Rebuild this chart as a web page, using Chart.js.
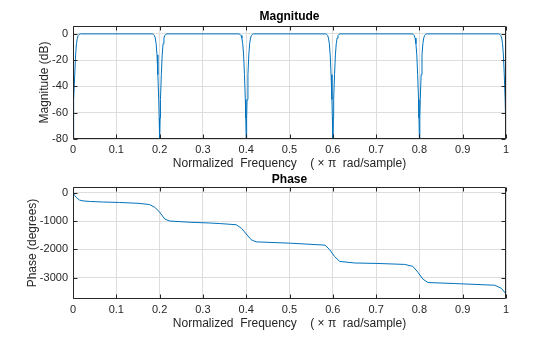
<!DOCTYPE html>
<html>
<head>
<meta charset="utf-8">
<script src="https://cdn.jsdelivr.net/npm/chart.js@4"></script>
<style>
  html, body { margin: 0; padding: 0; background: #ffffff; }
  #wrap { position: relative; width: 560px; height: 337px; overflow: hidden; background: #ffffff; }
  canvas { position: absolute; left: 0; }
  #c1 { top: 0; }
  #c2 { top: 172px; }
</style>
</head>
<body>
<div id="wrap">
  <canvas id="c1" width="560" height="172"></canvas>
  <canvas id="c2" width="560" height="165"></canvas>
</div>
<script>
// ---- data ----
const magFreq = [
  0, 0.001, 0.002, 0.004, 0.006, 0.008, 0.010, 0.012, 0.014, 0.017,
  0.183, 0.186, 0.188, 0.190, 0.192, 0.194, 0.196, 0.198, 0.199, 0.2, 0.201, 0.202, 0.204, 0.206, 0.208, 0.210, 0.212, 0.214, 0.217,
  0.383, 0.386, 0.388, 0.390, 0.392, 0.394, 0.396, 0.398, 0.399, 0.4, 0.401, 0.402, 0.404, 0.406, 0.408, 0.410, 0.412, 0.414, 0.417,
  0.583, 0.586, 0.588, 0.590, 0.592, 0.594, 0.596, 0.598, 0.599, 0.6, 0.601, 0.602, 0.604, 0.606, 0.608, 0.610, 0.612, 0.614, 0.617,
  0.783, 0.786, 0.788, 0.790, 0.792, 0.794, 0.796, 0.798, 0.799, 0.8, 0.801, 0.802, 0.804, 0.806, 0.808, 0.810, 0.812, 0.814, 0.817,
  0.983, 0.986, 0.988, 0.990, 0.992, 0.994, 0.996, 0.998, 0.999, 1
];
const magDb = [
  -80, -64, -50, -31, -16, -7.5, -3.2, -1.2, -0.4, 0,
  0, -0.4, -1.2, -3.2, -7.5, -16, -31, -50, -64, -80, -64, -50, -31, -16, -7.5, -3.2, -1.2, -0.4, 0,
  0, -0.4, -1.2, -3.2, -7.5, -16, -31, -50, -64, -80, -64, -50, -31, -16, -7.5, -3.2, -1.2, -0.4, 0,
  0, -0.4, -1.2, -3.2, -7.5, -16, -31, -50, -64, -80, -64, -50, -31, -16, -7.5, -3.2, -1.2, -0.4, 0,
  0, -0.4, -1.2, -3.2, -7.5, -16, -31, -50, -64, -80, -64, -50, -31, -16, -7.5, -3.2, -1.2, -0.4, 0,
  0, -0.4, -1.2, -3.2, -7.5, -16, -31, -50, -64, -80
];
const phaseFreq = [
  0, 0.004, 0.008, 0.015, 0.023, 0.04, 0.07, 0.108, 0.15, 0.177, 0.189, 0.2, 0.212, 0.223, 0.27,
  0.316, 0.339, 0.377, 0.389, 0.4, 0.412, 0.423, 0.5, 0.582, 0.593, 0.604, 0.616, 0.651, 0.70,
  0.766, 0.785, 0.797, 0.808, 0.82, 0.881, 0.974, 0.989, 1
];
const phaseDeg = [
  0, -100, -175, -260, -290, -310, -330, -346, -375, -418, -518, -686, -930, -1000, -1043,
  -1070, -1090, -1130, -1255, -1455, -1665, -1735, -1780, -1850, -2015, -2250, -2425, -2480, -2495,
  -2530, -2600, -2815, -3050, -3170, -3205, -3265, -3370, -3570
];
const freqTicks = [0, 0.1, 0.2, 0.3, 0.4, 0.5, 0.6, 0.7, 0.8, 0.9, 1];
const magTicks = [-80, -60, -40, -20, 0];
const phaseTicks = [-3000, -2000, -1000, 0];

// ---- styling ----
const LINE = '#0072BD';
const AX = '#262626';
const GRID = '#dedede';
const FONT = "'Liberation Sans', Arial, Helvetica, sans-serif";

const boxPlugin = {
  id: 'box',
  afterDraw(chart, args, opts) {
    const ctx = chart.ctx;
    const a = chart.chartArea;
    const L = Math.round(a.left) + 0.5, R = Math.round(a.right) - 0.5;
    const T = Math.round(a.top) + 0.5, B = Math.round(a.bottom) - 0.5;
    ctx.save();
    ctx.strokeStyle = AX;
    ctx.lineWidth = 1;
    ctx.beginPath();
    ctx.rect(L, T, R - L, B - T);
    const tl = 4;
    const xs = chart.scales.x, ys = chart.scales.y;
    xs.ticks.forEach(t => {
      const px = Math.round(xs.getPixelForValue(t.value)) + 0.5;
      ctx.moveTo(px, B); ctx.lineTo(px, B - tl);
      ctx.moveTo(px, T); ctx.lineTo(px, T + tl);
    });
    ys.ticks.forEach(t => {
      const py = Math.round(ys.getPixelForValue(t.value)) + 0.5;
      ctx.moveTo(L, py); ctx.lineTo(L + tl, py);
      ctx.moveTo(R, py); ctx.lineTo(R - tl, py);
    });
    ctx.stroke();
    // title
    ctx.fillStyle = '#000000';
    ctx.font = 'bold 12px ' + FONT;
    ctx.textAlign = 'center';
    ctx.textBaseline = 'alphabetic';
    ctx.fillText(opts.text, (a.left + a.right) / 2, a.top - opts.gap);
    ctx.restore();
  }
};

function makeChart(id, xs, ys, yMin, yMax, yTickVals, yTitle, yTitlePad, topPad, xHeight, xTitlePadBottom, title, titleGap) {
  return new Chart(document.getElementById(id), {
    type: 'line',
    data: {
      datasets: [{
        data: xs.map((f, i) => ({ x: f, y: ys[i] })),
        borderColor: LINE,
        borderWidth: 1,
        pointRadius: 0,
        tension: 0,
        fill: false
      }]
    },
    options: {
      responsive: false,
      animation: false,
      devicePixelRatio: 1,
      layout: { padding: { left: 0, right: 54, top: topPad, bottom: 0 } },
      plugins: {
        legend: { display: false },
        tooltip: { enabled: false },
        box: { text: title, gap: titleGap }
      },
      scales: {
        x: {
          type: 'linear',
          min: 0, max: 1,
          afterBuildTicks: s => { s.ticks = freqTicks.map(v => ({ value: v })); },
          afterFit: s => { s.height = xHeight; },
          ticks: {
            padding: 4.4, maxRotation: 0, autoSkip: false,
            color: AX, font: { family: FONT, size: 11 },
            callback: v => String(Math.round(v * 10) / 10)
          },
          grid: { color: GRID, drawTicks: false, lineWidth: 1 },
          border: { display: false },
          title: {
            display: true,
            text: 'Normalized  Frequency    ( \u00d7 \u03c0  rad/sample)',
            color: AX, font: { family: FONT, size: 12 },
            padding: { top: 0, bottom: xTitlePadBottom }
          }
        },
        y: {
          type: 'linear',
          min: yMin, max: yMax,
          afterBuildTicks: s => { s.ticks = yTickVals.map(v => ({ value: v })); },
          afterFit: s => { s.width = 73; },
          ticks: {
            padding: 5, color: AX, font: { family: FONT, size: 11 },
            callback: v => String(v)
          },
          grid: { color: GRID, drawTicks: false, lineWidth: 1 },
          border: { display: false },
          title: {
            display: true, text: yTitle,
            color: AX, font: { family: FONT, size: 12 },
            padding: { top: yTitlePad, bottom: 0 }
          }
        }
      }
    },
    plugins: [boxPlugin]
  });
}

makeChart('c1', magFreq, magDb, -80, 6, magTicks, 'Magnitude (dB)', 37.8, 26, 33, 0.8, 'Magnitude', 6);
makeChart('c2', phaseFreq, phaseDeg, -3750, 200, phaseTicks, 'Phase (degrees)', 25.8, 15, 38, 5.8, 'Phase', 4);
</script>
</body>
</html>
